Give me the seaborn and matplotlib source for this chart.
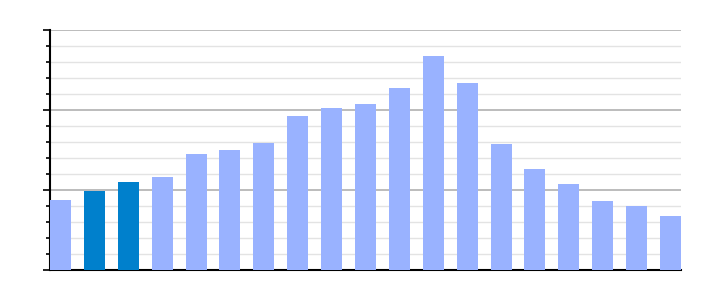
import matplotlib
matplotlib.use("Agg")
import matplotlib.pyplot as plt
import seaborn as sns
import pandas as pd
from matplotlib.ticker import MultipleLocator, NullFormatter

categories = [f"c{i}" for i in range(1, 20)]
values = [4.375, 4.94, 5.5, 5.81, 7.25, 7.5, 7.94, 9.625, 10.125, 10.375,
          11.375, 13.375, 11.69, 7.875, 6.31, 5.375, 4.31, 4.0, 3.375]
highlighted = ["c2", "c3"]

light = "#99B2FF"
dark = "#0080CC"

df = pd.DataFrame({"cat": categories, "val": values})
palette = {c: (dark if c in highlighted else light) for c in categories}

sns.set_style("white")
fig = plt.figure(figsize=(7.1, 3.0), dpi=100)
ax = fig.add_axes([50 / 710, 30 / 300, 631 / 710, 240 / 300])

sns.barplot(data=df, x="cat", y="val", hue="cat", palette=palette,
            order=categories, width=0.62, saturation=1, legend=False, ax=ax,
            linewidth=0, edgecolor="none", zorder=3)

ax.set_xlim(-0.31, 18.31)
ax.set_ylim(0, 15)
ax.yaxis.set_major_locator(MultipleLocator(5))
ax.yaxis.set_minor_locator(MultipleLocator(1))
ax.yaxis.set_major_formatter(NullFormatter())
ax.yaxis.set_minor_formatter(NullFormatter())
ax.grid(which="major", axis="y", color="#b0b0b0", linewidth=1.2, zorder=1)
ax.grid(which="minor", axis="y", color="#e3e3e3", linewidth=1.0, zorder=0)
ax.set_axisbelow(True)
ax.tick_params(axis="y", which="major", left=True, length=5, width=1.2, color="black")
ax.tick_params(axis="y", which="minor", left=True, length=3, width=1.2, color="black")
ax.tick_params(axis="x", bottom=False, labelbottom=False)
ax.set_xlabel("")
ax.set_ylabel("")
for s in ["top", "right"]:
    ax.spines[s].set_visible(False)
for s in ["left", "bottom"]:
    ax.spines[s].set_visible(True)
    ax.spines[s].set_color("black")
    ax.spines[s].set_linewidth(1.5)

fig.savefig("out.png", dpi=100)
